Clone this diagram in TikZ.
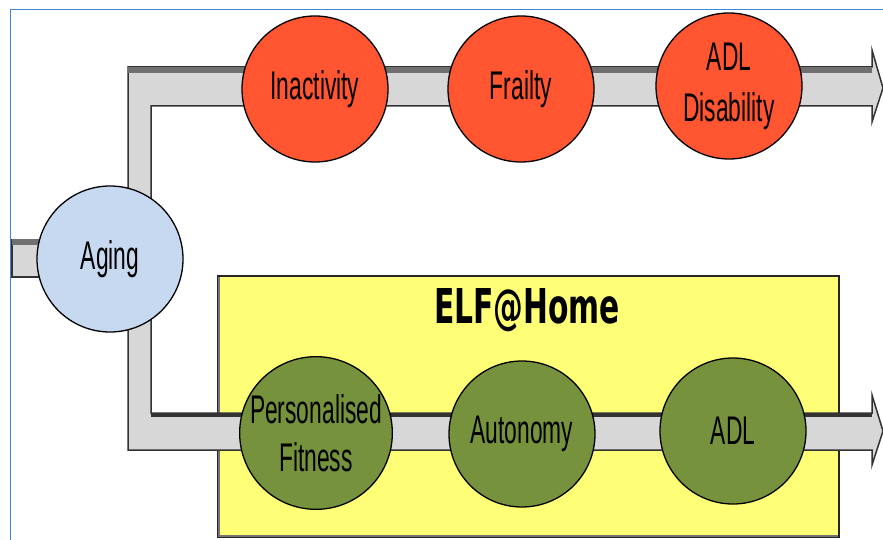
\documentclass[tikz,border=0pt]{standalone}
\usepackage{fontspec}
\setmainfont{Liberation Sans}
\newfontfamily\narrowfont[FakeStretch=0.57]{Liberation Sans}
\newfontfamily\titlefont[FakeStretch=0.62]{DejaVu Sans}
\definecolor{redc}{HTML}{FF5530}
\definecolor{bluec}{HTML}{C6D9F0}
\definecolor{greenc}{HTML}{76923C}
\definecolor{yelc}{HTML}{FFFF77}
\definecolor{bandc}{HTML}{D7D7D7}
\definecolor{banddark}{HTML}{707070}
\definecolor{framec}{HTML}{3A8AD6}
\tikzset{
  stagecircle/.style={circle, minimum size=146pt, inner sep=0pt, draw=black, line width=1.3pt,
    font=\narrowfont\fontsize{40}{48}\selectfont, align=center, text=black},
  redstage/.style={stagecircle, fill=redc},
  greenstage/.style={stagecircle, fill=greenc},
  bluestage/.style={stagecircle, fill=bluec},
  bandfill/.style={fill=bandc, draw=black!80, line width=1.5pt, line join=miter},
  bandtop/.style={fill=banddark},
  elfbox/.style={fill=yelc, draw=black!85, line width=2pt},
}
\begin{document}
\begin{tikzpicture}[x=1pt,y=-1pt]
\useasboundingbox (0,0) rectangle (883,540);
\fill[white] (0,0) rectangle (883,540);
% frame
\draw[framec, line width=1.5pt] (10.5,540) -- (10.5,9.5) -- (883,9.5);
% ELF box
\node[elfbox, minimum width=621pt, minimum height=261pt, inner sep=0pt] (elf) at (528.5,406.5) {};
\draw[black!55, line width=2pt] (219,277) -- (219,536) -- (838,536);
\node[font=\titlefont\bfseries\fontsize{48}{56}\selectfont, text=black] (title) at (527,310) {ELF@Home};
% coordinates
\coordinate (tipA) at (883,88);
\coordinate (tipB) at (883,431);
% left stub
\fill[bandc] (12,240) rectangle (50,277);
\draw[black!80, line width=1.5pt] (50,277) -- (12,277) -- (12,240) -- (50,240);
\fill[bandtop] (12,239) rectangle (50,245);
% top band
\draw[bandfill] (151,215) -- (151,106) -- (872,106) -- (872,122) -- (tipA) -- (872,50) -- (872,67) -- (128,67) -- (128,215);
\fill[bandtop] (128,67) rectangle (872,73);
% bottom band
\draw[bandfill] (151,300) -- (151,413) -- (872,413) -- (872,395) -- (tipB) -- (872,465) -- (872,450) -- (128,450) -- (128,300);
\fill[black!80] (151,413) rectangle (872,417);
% circles
\node[bluestage] (aging) at (110,259) {Aging};
\node[redstage] (inact) at (315,89) {Inactivity};
\node[redstage] (frail) at (521,89) {Frailty};
\node[redstage] (adld) at (729,86) {ADL\\[3pt]Disability};
\node[greenstage] (fit) at (316,433) {Personalised\\[0pt]Fitness};
\node[greenstage] (auto) at (522,434) {Autonomy};
\node[greenstage] (adl) at (733,431) {ADL};
\end{tikzpicture}
\end{document}
